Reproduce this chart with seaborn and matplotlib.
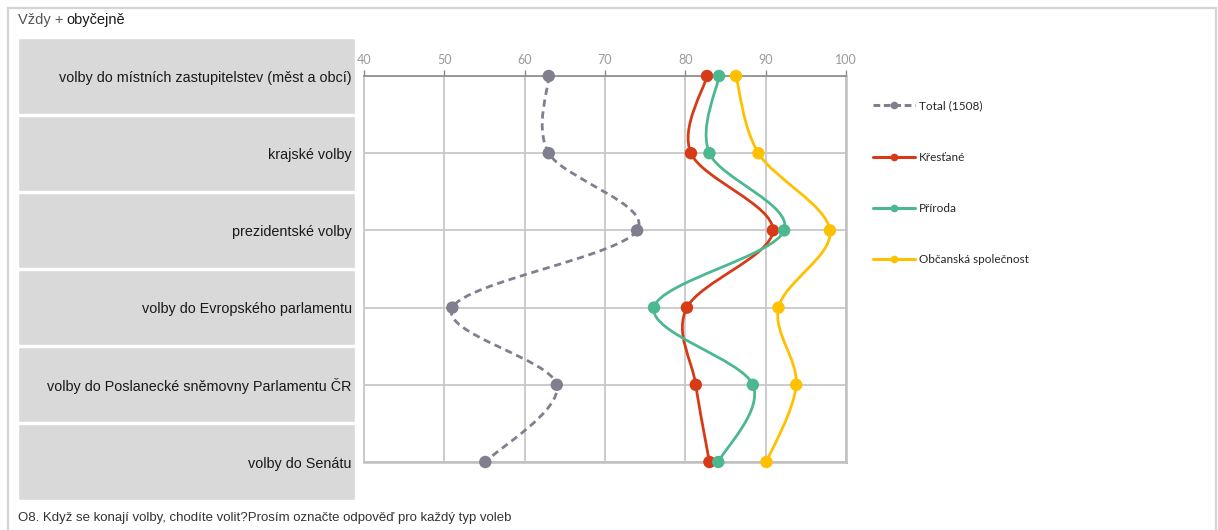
import numpy as np
import pandas as pd
import matplotlib
matplotlib.use("Agg")
import matplotlib.pyplot as plt
import seaborn as sns
from matplotlib.path import Path
from matplotlib.patches import PathPatch, Rectangle
from matplotlib.lines import Line2D

# data
categories = [
    "volby do místních zastupitelstev (měst a obcí)",
    "krajské volby",
    "prezidentské volby",
    "volby do Evropského parlamentu",
    "volby do Poslanecké sněmovny Parlamentu ČR",
    "volby do Senátu",
]
series_names = ["Total (1508)", "Křesťané", "Příroda", "Občanská společnost"]
total = [63.0, 63.0, 74.0, 51.0, 64.0, 55.1]
krestane = [82.7, 80.7, 90.9, 80.2, 81.3, 83.0]
priroda = [84.2, 83.0, 92.3, 76.1, 88.4, 84.1]
obcanska = [86.3, 89.1, 98.0, 91.6, 93.8, 90.1]
x_ticks = [40, 50, 60, 70, 80, 90, 100]

colors = ["#7f7f8f", "#d63a17", "#4bb890", "#ffc000"]
W, H = 1218, 530

sns.set_style("white")
plt.rcParams["font.family"] = ["Liberation Sans", "DejaVu Sans"]

fig = plt.figure(figsize=(W / 100, H / 100), dpi=100)


def px_axes(l, t, r, b):
    return fig.add_axes([l / W, 1 - b / H, (r - l) / W, (b - t) / H])


def smooth_path(xs, ys):
    # Catmull-Rom style smoothing (like Excel smoothed lines)
    pts = np.column_stack([xs, ys])
    n = len(pts)
    verts = [pts[0]]
    codes = [Path.MOVETO]
    for i in range(n - 1):
        p0 = pts[i - 1] if i > 0 else pts[i]
        p1 = pts[i]
        p2 = pts[i + 1]
        p3 = pts[i + 2] if i + 2 < n else pts[i + 1]
        c1 = p1 + (p2 - p0) / 6
        c2 = p2 - (p3 - p1) / 6
        verts += [c1, c2, p2]
        codes += [Path.CURVE4] * 3
    return Path(verts, codes)


# outer frame
fig.add_artist(Rectangle((8 / W, -0.01), (1208 / W), 1 - 8 / H + 0.01, transform=fig.transFigure,
                         fill=False, edgecolor="#d4d4d4", linewidth=1.6))

fig.text(18 / W, 1 - 20 / H, "Vždy + ", fontsize=10.5, color="#555555", va="center", ha="left")
fig.text(66 / W, 1 - 20 / H, "obyčejně", fontsize=10.5, color="#1a1a1a", va="center", ha="left")
fig.text(18 / W, 1 - 518 / H,
         "O8. Když se konají volby, chodíte volit?Prosím označte odpověď pro každý typ voleb",
         fontsize=9.5, color="#333333", va="center", ha="left")

# category label boxes
lab = px_axes(18, 37.4, 355, 500.6)
lab.barh(range(len(categories)), [1] * len(categories), height=0.972, color="#d9d9d9", left=0)
lab.set_xlim(0, 1)
lab.set_ylim(len(categories) - 0.5, -0.5)
lab.axis("off")
for i, c in enumerate(categories):
    lab.text(0.99, i + 0.02, c, ha="right", va="center", fontsize=10.4, color="#1a1a1a")

# main chart
ax = px_axes(364, 76, 846, 462)
pos = list(range(len(categories)))
values = [total, krestane, priroda, obcanska]
df = pd.DataFrame({
    "pos": pos * len(series_names),
    "value": sum(values, []),
    "series": np.repeat(series_names, len(categories)),
})

for name, vals, col in zip(series_names, values, colors):
    style = (0, (2.6, 1.7)) if name.startswith("Total") else "-"
    patch = PathPatch(smooth_path(vals, pos), fill=False, edgecolor=col, linewidth=2.0,
                      linestyle=style, zorder=2, clip_on=False)
    ax.add_patch(patch)

sns.scatterplot(data=df, x="value", y="pos", hue="series", palette=colors, s=80,
                linewidth=0, legend=False, ax=ax, zorder=3, clip_on=False)

ax.set_xlim(40, 100)
ax.set_ylim(len(categories) - 1, 0)
ax.set_xticks(x_ticks)
ax.set_yticks(pos)
ax.set_yticklabels([])
ax.set_xlabel("")
ax.set_ylabel("")
ax.grid(True, color="#c8c8c8", linewidth=1.3)
ax.set_axisbelow(True)
ax.xaxis.tick_top()
ax.tick_params(axis="x", top=True, bottom=False, direction="out", length=4, color="#8a8a8a",
               width=1.0, labelsize=9, labelcolor="#9a9a9a", pad=3)
ax.tick_params(axis="y", left=False, right=False)
for lbl in ax.get_xticklabels():
    lbl.set_family(["Lato", "DejaVu Sans"])
ax.spines["top"].set_color("#8a8a8a")
ax.spines["top"].set_linewidth(1.2)
ax.spines["left"].set_color("#c8c8c8")
ax.spines["left"].set_linewidth(1.3)
for s in ["right", "bottom"]:
    ax.spines[s].set_color("#c0c0c0")
    ax.spines[s].set_linewidth(1.8)

handles = [
    Line2D([0], [0], color=col, linewidth=2.2, marker="o", markersize=4.5,
           linestyle=(0, (2.2, 1.2)) if i == 0 else "-")
    for i, col in enumerate(colors)
]
fig.legend(handles, series_names, loc="upper left", bbox_to_anchor=(862 / W, 1 - 90 / H),
           frameon=False, labelspacing=3.4, handlelength=3.6, handletextpad=0.3,
           prop={"family": ["Lato", "DejaVu Sans"], "size": 8.5})

fig.savefig("out.png", dpi=100)
